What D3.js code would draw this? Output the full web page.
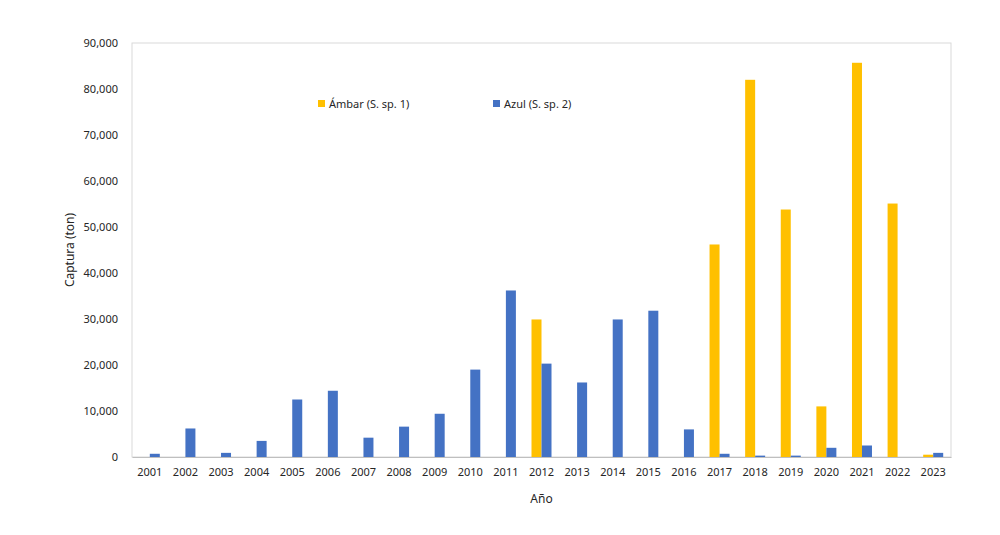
<!DOCTYPE html>
<html>
<head>
<meta charset="utf-8">
<script src="https://cdn.jsdelivr.net/npm/d3@7"></script>
<style>
  body { margin: 0; background: #fff; }
  text { font-family: "Noto Sans", sans-serif; fill: #262626; }
</style>
</head>
<body>
<div id="chart"></div>
<script>
// catch data per year (ton)
const years = ["2001","2002","2003","2004","2005","2006","2007","2008","2009","2010","2011","2012",
               "2013","2014","2015","2016","2017","2018","2019","2020","2021","2022","2023"];
const ambar = [0,0,0,0,0,0,0,0,0,0,0,29900,0,0,0,0,46200,82000,53800,11000,85700,55100,500];
const azul  = [700,6200,900,3500,12500,14400,4200,6600,9400,19000,36200,20300,
               16200,29900,31800,6000,700,300,300,2000,2500,0,900];
const seriesNames = ["Ámbar (S. sp. 1)", "Azul (S. sp. 2)"];
const colors = ["#FFC000", "#4472C4"];
const yTicks = [0,10000,20000,30000,40000,50000,60000,70000,80000,90000];

const margin = { top: 43, right: 49, bottom: 78, left: 132 },
  width = 1000 - margin.left - margin.right,
  height = 535 - margin.top - margin.bottom;

const svg = d3.select("#chart")
  .append("svg")
  .attr("width", 1000)
  .attr("height", 535)
  .append("g")
  .attr("transform", `translate(${margin.left},${margin.top})`);

const data = years.map((y, i) => ({ year: y, values: [ambar[i], azul[i]] }));

const x = d3.scaleBand().domain(years).range([0, width]).paddingInner(0).paddingOuter(0);
const x1 = d3.scaleBand().domain([0, 1]).range([x.bandwidth() / 2 - 10, x.bandwidth() / 2 + 10]);
const y = d3.scaleLinear().domain([0, 90000]).range([height, 0]);

// plot area border
svg.append("rect")
  .attr("width", width)
  .attr("height", height)
  .attr("fill", "none")
  .attr("stroke", "#d9d9d9");

// y axis labels
const yAxis = svg.append("g")
  .call(d3.axisLeft(y).tickValues(yTicks).tickFormat(d3.format(",")).tickSize(0).tickPadding(14));
yAxis.select(".domain").remove();
yAxis.selectAll("text").style("font-size", "11px");

// bars
const groups = svg.selectAll(".year")
  .data(data)
  .join("g")
  .attr("transform", d => `translate(${x(d.year)},0)`);

groups.selectAll("rect")
  .data(d => d.values.map((v, k) => ({ k, v })))
  .join("rect")
  .attr("x", d => x1(d.k))
  .attr("y", d => y(d.v))
  .attr("width", x1.bandwidth())
  .attr("height", d => height - y(d.v))
  .attr("fill", d => colors[d.k]);

// x axis
const xAxis = svg.append("g")
  .attr("transform", `translate(0,${height})`)
  .call(d3.axisBottom(x).tickSize(0).tickPadding(11));
xAxis.select(".domain").attr("stroke", "#bfbfbf");
xAxis.selectAll("text").style("font-size", "11px");

// axis titles
svg.append("text")
  .attr("x", width / 2)
  .attr("y", height + 46)
  .attr("text-anchor", "middle")
  .style("font-size", "12px")
  .text("Año");

svg.append("text")
  .attr("transform", `translate(-58,${height / 2}) rotate(-90)`)
  .attr("text-anchor", "middle")
  .style("font-size", "12px")
  .text("Captura (ton)");

// legend
const legendX = [186, 361];
const legend = svg.selectAll(".legend")
  .data(seriesNames)
  .join("g")
  .attr("transform", (d, i) => `translate(${legendX[i]},57)`);
legend.append("rect")
  .attr("width", 7).attr("height", 7).attr("y", 0)
  .attr("fill", (d, i) => colors[i]);
legend.append("text")
  .attr("x", 11).attr("y", 7.5)
  .style("font-size", "11px")
  .text(d => d);
</script>
</body>
</html>
